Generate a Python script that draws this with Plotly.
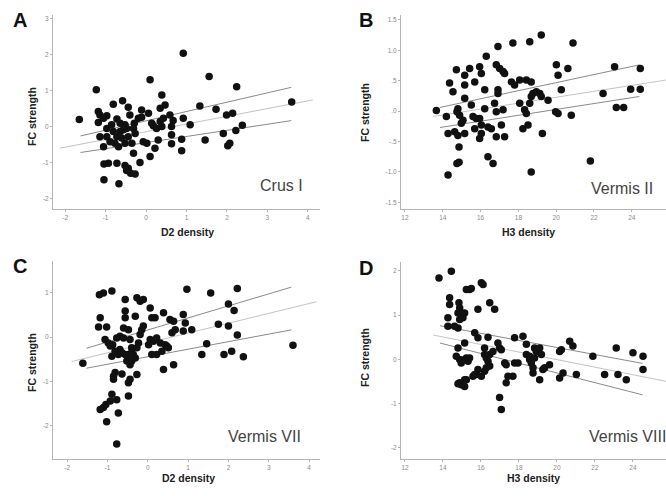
import plotly.graph_objects as go

W, H = 666, 496

# ---------------- data ----------------
# Panel A: Crus I (D2 density vs FC strength)
a_x = [0.92, 1.56, 0.10, 2.24, -1.23, 0.39, 3.60, 1.33, -0.58, 1.73, -0.81, -0.44, -0.11, 0.35, 0.47,
       0.43, 0.59, 0.67, 0.92, 1.09, 0.14, 0.18, -0.29, -0.19, -0.40, -1.18, -1.14, -0.97, -1.05, -1.18,
       -0.72, -0.64, -0.52, -0.48, -0.56, -0.64, -0.81, -0.97, -1.14, -0.97, -0.89, -1.05, -0.77, -0.68,
       -0.52, -0.35, -0.27, -0.31, -0.07, 0.02, 0.22, 0.10, 0.30, 0.63, 0.63, 0.88, 0.88, -0.31, -0.15,
       -0.44, -0.52, -0.48, -0.38, -0.27, -0.72, -0.93, -1.04, -0.67, -1.04, -1.65, 1.46, 1.91, 2.02,
       2.07, 2.22, 2.38, 1.99, 2.14, 0.39, 0.26, -0.85, -0.72, -0.60, -0.44, -0.11, 0.06, 0.63, 0.35]
a_y = [2.05, 1.40, 1.31, 1.12, 1.03, 0.89, 0.69, 0.58, 0.73, 0.49, 0.63, 0.55, 0.47, 0.52, 0.61,
       0.24, 0.33, 0.18, 0.24, 0.06, 0.10, 0.03, 0.10, 0.24, 0.33, 0.43, 0.33, 0.31, 0.24, 0.12,
       0.22, 0.10, 0.06, -0.04, -0.08, -0.13, -0.13, -0.04, -0.27, -0.27, -0.41, -0.55, -0.45, -0.55,
       -0.45, -0.45, -0.18, -0.04, -0.41, -0.45, -0.59, -0.82, -0.36, -0.22, -0.47, -0.34, -0.66, -0.73, -0.99,
       -1.15, -1.07, -1.21, -1.29, -1.31, -1.01, -1.01, -1.03, -1.58, -1.47, 0.21, -0.36, -0.18, -0.52,
       -0.45, -0.10, 0.05, 0.33, 0.38, 0.01, -0.04, 0.06, -0.27, -0.31, -0.27, 0.27, 0.38, 0.01, 0.15]
a_band_x = [-1.62, 3.59]
a_band_hi = [-0.25, 1.10]
a_band_lo = [-0.71, 0.175]
a_fit_x = [-2.13, 4.12]
a_fit_y = [-0.59, 0.75]

# Panel B: Vermis II (H3 density vs FC strength)
b_x = [19.21, 18.60, 17.71, 16.92, 20.89, 16.30, 16.83, 17.01, 17.19, 17.27, 15.42, 15.95, 15.16, 14.72,
       14.36, 14.54, 15.16, 15.69, 16.04, 16.22, 15.16, 15.51, 14.80, 14.75, 14.89, 15.07, 14.98, 14.19,
       14.28, 14.63, 14.80, 15.16, 14.86, 14.86, 14.75, 14.28, 15.60, 15.77, 15.95, 16.04, 16.04, 15.95,
       15.69, 16.22, 16.39, 16.57, 16.74, 16.83, 16.83, 16.92, 16.92, 17.19, 17.27, 17.10, 16.39, 16.66,
       17.63, 17.80, 18.07, 18.42, 18.68, 18.07, 18.33, 18.42, 18.24, 18.51, 18.60, 18.68, 18.77, 18.95,
       19.13, 19.21, 19.57, 18.68, 19.27, 20.01, 20.10, 19.97, 20.10, 20.27, 20.62, 20.80, 21.81, 22.48,
       23.09, 23.18, 23.57, 23.94, 24.45, 24.45, 13.66]
b_y = [1.25, 1.14, 1.12, 1.06, 1.12, 0.90, 0.76, 0.70, 0.65, 0.62, 0.70, 0.73, 0.59, 0.68,
       0.46, 0.32, 0.43, 0.48, 0.62, 0.35, 0.21, 0.10, 0.04, -0.01, -0.07, -0.15, -0.20, -0.09,
       -0.37, -0.34, -0.40, -0.37, -0.59, -0.84, -0.86, -1.05, -0.09, -0.12, -0.12, -0.23, -0.37, -0.45,
       -0.29, 0.04, -0.26, -0.29, 0.13, -0.01, -0.42, 0.35, 0.29, 0.02, -0.42, -0.23, -0.75, -0.86,
       0.48, 0.43, 0.51, 0.51, 0.48, 0.13, 0.02, -0.04, -0.29, -0.23, 0.13, 0.24, 0.29, 0.32,
       0.29, 0.24, 0.18, -1.00, -0.37, 0.76, 0.59, -0.01, -0.04, 0.35, 0.70, -0.07, -0.82, 0.29,
       0.73, 0.06, 0.06, 0.36, 0.70, 0.36, 0.01]
b_band_x = [13.85, 24.40]
b_band_hi = [0.06, 0.76]
b_band_lo = [-0.27, 0.24]
b_fit_x = [13.48, 25.80]
b_fit_y = [-0.09, 0.51]

# Panel C: Vermis VII (D2 density vs FC strength)
c_x = [-1.61, -1.20, -1.10, -0.89, -1.18, -1.22, -1.02, -1.06, -0.98, -0.93, -0.87, -0.89, -0.81, -0.77,
       -0.69, -0.60, -0.60, -0.56, -0.56, -0.56, -0.48, -0.44, -0.40, -0.40, -0.48, -0.56, -0.64, -0.69,
       -0.73, -0.52, -0.44, -0.40, -0.31, -0.36, -0.27, -0.23, -0.19, -0.11, -0.15, -0.31, -0.27, -0.19,
       -0.11, 0.06, 0.10, 0.18, 0.02, 0.06, 0.14, 0.22, 0.31, 0.10, 0.22, 0.35, 0.39, 0.43, 0.47, 0.51,
       0.55, 0.64, 0.60, 0.68, 0.64, 0.39, 0.88, 0.93, 0.88, 0.97, 1.09, 1.46, 1.34, 1.56, 1.75, 2.00,
       1.89, 2.08, 2.00, 2.14, 2.22, 2.22, 2.37, 3.60, -0.81, -0.85, -0.85, -0.64, -0.48, -0.44, -0.27,
       -0.89, -0.93, -1.10, -1.18, -0.77, -0.73, -1.02, -0.77, -0.48, -1.04]
c_y = [-0.59, 0.96, 1.00, 1.04, 0.44, 0.23, 0.23, -0.05, -0.13, -0.20, -0.17, -0.43, -0.32, -0.02,
       0.02, -0.02, 0.21, 0.44, 0.59, 0.85, 0.17, -0.05, -0.24, -0.35, -0.39, -0.39, -0.35, -0.28,
       -0.39, -0.54, -0.62, -0.54, -0.47, -0.39, -0.24, -0.13, 0.06, 0.25, 0.17, 0.47, 0.89, 0.81,
       0.85, 0.66, 0.44, 0.44, -0.17, -0.05, -0.09, -0.02, -0.13, -0.39, -0.39, -0.32, 0.55, -0.17, -0.20, -0.24,
       0.40, 0.36, 0.10, 0.17, -0.62, -0.73, 0.51, 0.32, 0.14, 1.08, 0.17, -0.15, -0.39, 1.00, 0.29, 0.25,
       -0.39, -0.32, 0.75, 0.60, 1.10, 0.05, -0.44, -0.18, -0.80, -0.88, -0.95, -0.83, -1.03, -0.95, -0.84,
       -1.29, -1.44, -1.59, -1.63, -1.41, -1.71, -1.91, -2.41, -1.33, -1.52]
c_band_x = [-1.52, 3.56]
c_band_hi = [-0.25, 1.13]
c_band_lo = [-0.70, 0.165]
c_fit_x = [-1.89, 4.18]
c_fit_y = [-0.55, 0.80]

# Panel D: Vermis VIII (H3 density vs FC strength)
d_x = [13.79, 14.44, 14.35, 14.35, 14.26, 14.26, 14.61, 14.79, 14.84, 14.88, 14.96, 15.05, 15.14, 14.79,
       14.88, 15.23, 15.40, 15.49, 16.02, 16.11, 15.84, 16.46, 16.72, 15.67, 15.84, 16.37, 16.89, 14.79,
       15.14, 14.70, 14.88, 14.96, 15.14, 15.23, 15.32, 15.40, 16.19, 16.19, 16.28, 16.37, 16.46, 16.63,
       16.98, 17.07, 16.46, 16.28, 16.19, 15.84, 15.75, 16.02, 15.67, 15.58, 14.88, 14.96, 14.79, 15.14,
       15.23, 15.14, 16.98, 17.07, 17.25, 17.33, 17.33, 17.42, 17.68, 17.77, 17.95, 17.77, 18.21, 18.39,
       18.39, 18.56, 18.56, 18.65, 18.74, 18.74, 18.82, 18.91, 18.82, 19.09, 19.18, 19.26, 19.35, 19.09,
       19.61, 20.14, 20.23, 20.14, 20.32, 20.67, 20.84, 21.02, 21.89, 22.51, 23.12, 23.21, 23.65, 24.00,
       24.53, 24.53]
d_y = [1.84, 1.99, 1.39, 1.24, 0.94, 0.75, 0.75, 0.71, 1.28, 1.16, 1.05, 0.94, 1.05, 1.05,
       0.90, 1.58, 1.58, 1.60, 1.73, 1.69, 1.13, 1.28, 1.13, 0.60, 0.49, 0.50, 0.37, 0.26,
       0.37, 0.07, 0.00, -0.08, 0.00, 0.03, -0.04, 0.03, 0.26, 0.11, 0.03, -0.04, 0.11, 0.18,
       0.26, 0.22, -0.15, -0.19, -0.27, -0.23, -0.34, -0.38, -0.34, -0.38, -0.53, -0.57, -0.55, -0.46,
       -0.46, -0.61, -0.86, -1.13, -0.08, -0.12, -0.53, -0.38, -0.38, -0.08, -0.08, 0.49, 0.52, 0.34,
       0.11, 0.07, 0.00, -0.08, -0.19, -0.31, 0.26, 0.18, 0.03, 0.26, 0.11, -0.23, -0.19, -0.46,
       -0.12, 0.18, 0.22, -0.42, -0.31, 0.41, 0.30, -0.34, 0.07, -0.34, 0.26, -0.34, -0.46, 0.15,
       0.07, -0.23]
d_band_x = [13.84, 24.50]
d_band_hi = [0.76, -0.09]
d_band_lo = [0.37, -0.80]
d_fit_x = [13.49, 25.80]
d_fit_y = [0.55, -0.50]

# tick labels
ab_xticks_d2 = [-2, -1, 0, 1, 2, 3, 4]
xticks_h3 = [12, 14, 16, 18, 20, 22, 24]
a_yticks = [-2, -1, 0, 1, 2, 3]
b_yticks = [-1.5, -1.0, -0.5, 0.0, 0.5, 1.0, 1.5]
b_yticklabels = ["-1.5", "-1.0", "-.5", ".0", ".5", "1.0", "1.5"]
c_yticks = [-2, -1, 0, 1]
d_yticks = [-2, -1, 0, 1, 2]

panel_letters = ["A", "B", "C", "D"]
panel_names = ["Crus I", "Vermis II", "Vermis VII", "Vermis VIII"]
x_titles = ["D2 density", "H3 density", "D2 density", "H3 density"]
y_title = "FC strength"

# ---------------- layout helpers ----------------
def fx(px):
    return px / W

def fy(py):
    return 1 - py / H

panels = [
    dict(xs=a_x, ys=a_y, bx=a_band_x, bh=a_band_hi, bl=a_band_lo, fxv=a_fit_x, fyv=a_fit_y,
         dom_x=(53, 320), dom_y=(209, 15), xr=(-2.30, 4.30), yr=(-2.28, 3.11),
         xt=ab_xticks_d2, xtl=[str(v) for v in ab_xticks_d2], yt=a_yticks, ytl=[str(v) for v in a_yticks],
         letter=(20, 20), name=(281, 185), xtitle=(187, 232), ytitle=(32, 117)),
    dict(xs=b_x, ys=b_y, bx=b_band_x, bh=b_band_hi, bl=b_band_lo, fxv=b_fit_x, fyv=b_fit_y,
         dom_x=(401, 666), dom_y=(209, 15), xr=(11.79, 25.81), yr=(-1.61, 1.58),
         xt=xticks_h3, xtl=[str(v) for v in xticks_h3], yt=b_yticks, ytl=b_yticklabels,
         letter=(366, 20), name=(622, 188), xtitle=(528, 232), ytitle=(365, 113)),
    dict(xs=c_x, ys=c_y, bx=c_band_x, bh=c_band_hi, bl=c_band_lo, fxv=c_fit_x, fyv=c_fit_y,
         dom_x=(53, 320), dom_y=(459, 261), xr=(-2.35, 4.27), yr=(-2.75, 1.72),
         xt=ab_xticks_d2, xtl=[str(v) for v in ab_xticks_d2], yt=c_yticks, ytl=[str(v) for v in c_yticks],
         letter=(20, 266), name=(264, 436), xtitle=(188, 478), ytitle=(32, 363)),
    dict(xs=d_x, ys=d_y, bx=d_band_x, bh=d_band_hi, bl=d_band_lo, fxv=d_fit_x, fyv=d_fit_y,
         dom_x=(401, 666), dom_y=(459, 262), xr=(11.79, 25.74), yr=(-2.25, 2.20),
         xt=xticks_h3, xtl=[str(v) for v in xticks_h3], yt=d_yticks, ytl=[str(v) for v in d_yticks],
         letter=(366, 268), name=(627, 436), xtitle=(533, 478), ytitle=(365, 358)),
]

fig = go.Figure()
layout = dict(
    width=W, height=H, margin=dict(l=0, r=0, t=0, b=0),
    paper_bgcolor="white", plot_bgcolor="white", showlegend=False,
    font=dict(family="Liberation Sans, Arial, sans-serif"),
)
annotations = []

for i, p in enumerate(panels):
    k = "" if i == 0 else str(i + 1)
    xa, ya = "x" + k, "y" + k
    # fit line (light) and band lines (darker)
    fig.add_trace(go.Scatter(x=p["fxv"], y=p["fyv"], mode="lines", xaxis=xa, yaxis=ya,
                             line=dict(color="#c4c4c4", width=1), hoverinfo="skip"))
    fig.add_trace(go.Scatter(x=p["bx"], y=p["bh"], mode="lines", xaxis=xa, yaxis=ya,
                             line=dict(color="#8a8a8a", width=1), hoverinfo="skip"))
    fig.add_trace(go.Scatter(x=p["bx"], y=p["bl"], mode="lines", xaxis=xa, yaxis=ya,
                             line=dict(color="#8a8a8a", width=1), hoverinfo="skip"))
    fig.add_trace(go.Scatter(x=p["xs"], y=p["ys"], mode="markers", xaxis=xa, yaxis=ya,
                             marker=dict(color="#111111", size=7.5, line=dict(width=0))))
    common = dict(showgrid=False, zeroline=False, showline=True, linecolor="#b5b5b5", linewidth=1,
                  ticks="outside", ticklen=2, tickcolor="#b5b5b5",
                  tickfont=dict(size=6.5, color="#8a8a8a", family="Liberation Sans, Arial, sans-serif"))
    layout["xaxis" + k] = dict(common, domain=[fx(p["dom_x"][0]), fx(p["dom_x"][1])],
                               range=list(p["xr"]), tickmode="array", tickvals=p["xt"], ticktext=p["xtl"],
                               anchor=ya)
    layout["yaxis" + k] = dict(common, domain=[fy(p["dom_y"][0]), fy(p["dom_y"][1])],
                               range=list(p["yr"]), tickmode="array", tickvals=p["yt"], ticktext=p["ytl"],
                               anchor=xa)
    annotations.append(dict(text="<b>" + panel_letters[i] + "</b>", x=fx(p["letter"][0]), y=fy(p["letter"][1]),
                            xref="paper", yref="paper", showarrow=False, xanchor="center", yanchor="middle",
                            font=dict(size=20, color="#111111")))
    annotations.append(dict(text=panel_names[i], x=fx(p["name"][0]), y=fy(p["name"][1]),
                            xref="paper", yref="paper", showarrow=False, xanchor="center", yanchor="middle",
                            font=dict(size=16, color="#444444")))
    annotations.append(dict(text="<b>" + x_titles[i] + "</b>", x=fx(p["xtitle"][0]), y=fy(p["xtitle"][1]),
                            xref="paper", yref="paper", showarrow=False, xanchor="center", yanchor="middle",
                            font=dict(size=10.5, color="#222222")))
    annotations.append(dict(text="<b>" + y_title + "</b>", x=fx(p["ytitle"][0]), y=fy(p["ytitle"][1]),
                            xref="paper", yref="paper", showarrow=False, xanchor="center", yanchor="middle",
                            textangle=-90, font=dict(size=10.5, color="#222222")))

layout["annotations"] = annotations
fig.update_layout(**layout)
fig.write_html("out.html", config={"displayModeBar": False},
               post_script="document.body.style.margin='0';document.body.style.padding='0';")
